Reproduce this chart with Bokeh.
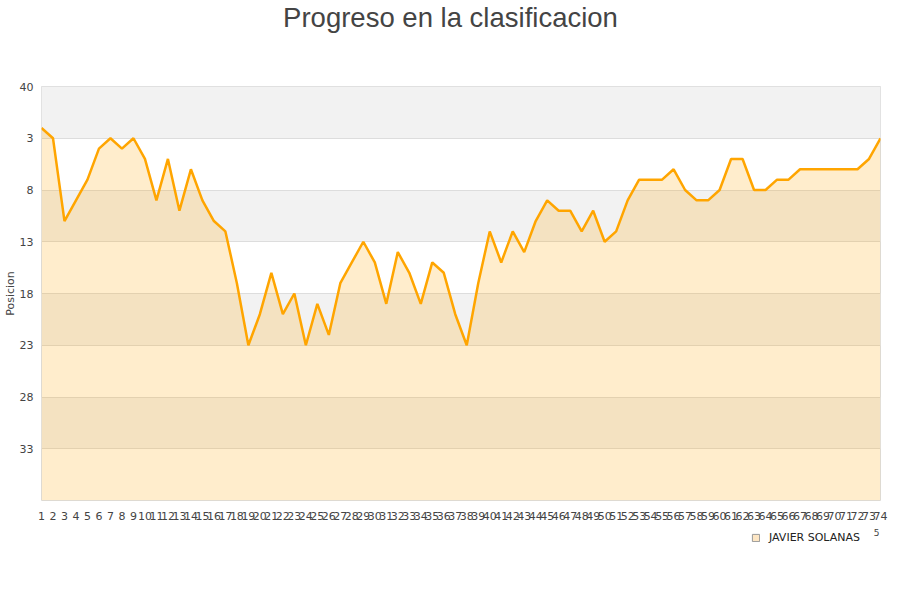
from bokeh.plotting import figure
from bokeh.layouts import column
from bokeh.models import (ColumnDataSource, Range1d, FixedTicker, Label,
                          Legend, LegendItem)
from bokeh.embed import file_html
from bokeh.resources import INLINE

#- jornadas and position in the ranking after each one
jornadas = list(range(1, 75))
posicion = [2, 3, 11, 9, 7, 4, 3, 4, 3, 5,
            9, 5, 10, 6, 9, 11, 12, 17, 23, 20,
            16, 20, 18, 23, 19, 22, 17, 15, 13, 15,
            19, 14, 16, 19, 15, 16, 20, 23, 17, 12,
            15, 12, 14, 11, 9, 10, 10, 12, 10, 13,
            12, 9, 7, 7, 7, 6, 8, 9, 9, 8,
            5, 5, 8, 8, 7, 7, 6, 6, 6, 6,
            6, 6, 5, 3]
y_ticks = [-2, 3, 8, 13, 18, 23, 28, 33]
y_tick_labels = {-2: "40"}
jugador = "JAVIER SOLANAS"
titulo = "Progreso en la clasificacion"

source = ColumnDataSource(data=dict(x=jornadas, y=posicion))


def strip(height):
    '''empty figure used only to hold texts above / below the chart'''
    f = figure(width=900, height=height, output_backend="svg",
               toolbar_location=None, tools="", x_range=Range1d(0, 840),
               y_range=Range1d(0, height), min_border=0,
               x_axis_type=None, y_axis_type=None)
    f.outline_line_color = None
    f.grid.grid_line_color = None
    return f


#- title strip
t = strip(56)
t.add_layout(Label(x=409, y=39, text=titulo, text_align="center",
                   text_baseline="alphabetic", text_font="Liberation Sans",
                   text_font_size="27.5px", text_color="#444444",
                   x_units="screen", y_units="screen"))

#- main chart
p = figure(width=900, height=468, output_backend="svg", toolbar_location=None,
           tools="", x_range=Range1d(1, 74), y_range=Range1d(38, -2),
           min_border_left=40, min_border_right=20,
           min_border_top=30, min_border_bottom=24)

p.background_fill_color = "white"
p.border_fill_color = "white"
p.outline_line_color = "#dddddd"

#- alternating grey bands + grid lines, drawn by hand so the order is right
p.grid.grid_line_color = None
p.hstrip(y0=y_ticks[0::2], y1=y_ticks[1::2], fill_color="#f2f2f2",
         line_color=None)
p.hspan(y=y_ticks, line_color="#dddddd", line_width=1)

#- area under the curve and the line
p.varea(x='x', y1='y', y2=38, source=source, fill_color="orange", fill_alpha=0.2)
p.line(x='x', y='y', source=source, line_color="#FFA500", line_width=2.5)

#- axes
p.xaxis.ticker = FixedTicker(ticks=jornadas)
p.yaxis.ticker = FixedTicker(ticks=y_ticks)
p.yaxis.major_label_overrides = y_tick_labels
for ax in (p.xaxis, p.yaxis):
    ax.axis_line_color = None
    ax.major_tick_line_color = None
    ax.minor_tick_line_color = None
    ax.major_tick_out = 0
    ax.minor_tick_out = 0
    ax.major_label_text_font = "DejaVu Sans"
    ax.major_label_text_font_size = "11px"
    ax.major_label_text_color = "#444444"
p.xaxis.major_label_standoff = 11
p.yaxis.major_label_standoff = 8
p.yaxis.axis_label = "Posicion"
p.yaxis.axis_label_standoff = 0
p.yaxis.axis_label_text_font = "DejaVu Sans"
p.yaxis.axis_label_text_font_size = "11px"
p.yaxis.axis_label_text_font_style = "normal"
p.yaxis.axis_label_text_color = "#444444"

#- legend strip; the swatch renderer sits outside the visible range
q = strip(76)
swatch = q.quad(left=[-20], right=[-10], top=[-10], bottom=[-20],
                fill_color="#fde6c4", line_color="#999999")
legend = Legend(items=[LegendItem(label=jugador, renderers=[swatch])],
                location=(710, 56), orientation="horizontal",
                border_line_color=None, background_fill_alpha=0,
                glyph_width=9, glyph_height=9, label_standoff=9,
                padding=0, margin=0,
                label_text_font="DejaVu Sans", label_text_font_size="11px",
                label_text_color="#222222")
q.add_layout(legend, "center")
q.add_layout(Label(x=835, y=68, text="5", text_align="center",
                   text_baseline="middle", text_font="DejaVu Sans",
                   text_font_size="9px", text_color="#444444",
                   x_units="screen", y_units="screen"))

open("out.html", "w").write(file_html(column(t, p, q, spacing=0), INLINE))
